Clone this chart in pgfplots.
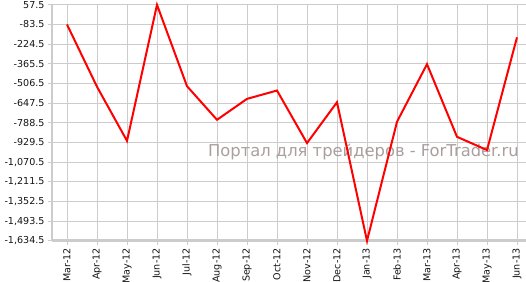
\documentclass[border=0pt]{standalone}
\usepackage{fontspec}
\setmainfont{DejaVu Sans}
\usepackage{pgfplots}
\pgfplotsset{compat=1.18}
\definecolor{gridc}{RGB}{204,204,204}
\definecolor{wm}{RGB}{170,158,158}
\definecolor{lbl}{RGB}{20,20,20}
\begin{document}
\begin{tikzpicture}
\begin{axis}[
  at={(0,0)}, anchor=south west,
  scale only axis, width=474bp, height=236bp,
  xmin=-0.5, xmax=15.3, ymin=-1634.5, ymax=57.5,
  axis x line*=bottom, axis y line*=left,
  x axis line style={gridc, line width=2.6bp, -},
  y axis line style={gridc, line width=1.8bp, -},
  grid=major, major grid style={gridc, line width=0.8bp},
  tick style={gridc, line width=0.8bp}, major tick length=4bp, tick align=outside,
  xtick={0,...,15},
  xticklabels={Mar-12,Apr-12,May-12,Jun-12,Jul-12,Aug-12,Sep-12,Oct-12,Nov-12,Dec-12,Jan-13,Feb-13,Mar-13,Apr-13,May-13,Jun-13},
  x tick label style={rotate=90, anchor=east},
  ytick={-1634.5,-1493.5,-1352.5,-1211.5,-1070.5,-929.5,-788.5,-647.5,-506.5,-365.5,-224.5,-83.5,57.5},
  yticklabels={{-1,634.5},{-1,493.5},{-1,352.5},{-1,211.5},{-1,070.5},{-929.5},{-788.5},{-647.5},{-506.5},{-365.5},{-224.5},{-83.5},{57.5}},
  tick label style={font=\fontsize{9.6}{10}\selectfont, text=lbl},
  clip=false,
]
\node[anchor=west, text=wm, font=\fontsize{16.4}{18}\selectfont, inner sep=0pt] at (rel axis cs:0.329,0.376) {Портал для трейдеров - ForTrader.ru};
\addplot[red, line width=2bp, line join=miter] coordinates {
(0,-83.5) (1,-530) (2,-918) (3,57.5) (4,-526) (5,-767) (6,-617) (7,-557)
(8,-934) (9,-641) (10,-1634.5) (11,-781) (12,-368) (13,-889) (14,-984) (15,-176)};
\end{axis}
\pgfresetboundingbox
\useasboundingbox (-52bp,-41.2bp) rectangle (474bp,240.8bp);
\end{tikzpicture}
\end{document}
